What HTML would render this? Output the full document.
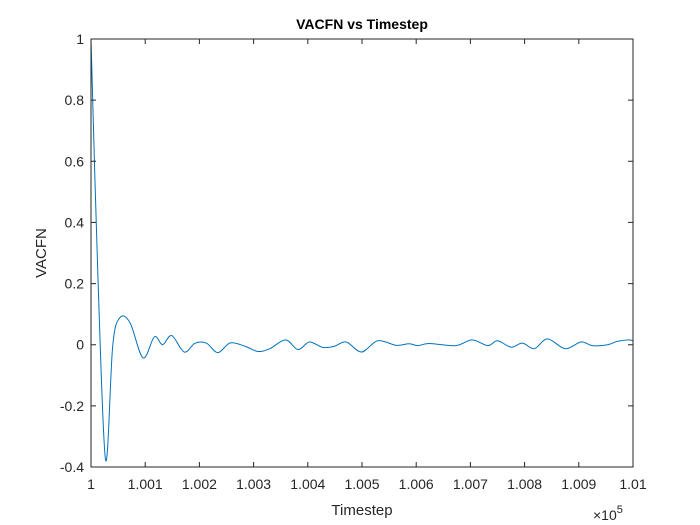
<!DOCTYPE html>
<html><head><meta charset="utf-8"><style>
html,body{margin:0;padding:0;background:#fff;}
svg{display:block;font-family:"Liberation Sans",Arial,sans-serif;}
</style></head><body>
<svg id="chart" width="700" height="525" viewBox="0 0 700 525">
<rect width="700" height="525" fill="#fff"/>
<text x="362" y="29" font-size="14" font-weight="bold" text-anchor="middle" fill="#000">VACFN vs Timestep</text>
<g id="axes"></g>
<text x="362" y="515" font-size="15" text-anchor="middle" fill="#262626">Timestep</text>
<text transform="translate(46,253) rotate(-90)" font-size="15" text-anchor="middle" fill="#262626">VACFN</text>
<text x="593" y="520" font-size="14" fill="#262626">×10<tspan dy="-7" font-size="11">5</tspan></text>
</svg>
<script>
const xTicks=[100000,100100,100200,100300,100400,100500,100600,100700,100800,100900,101000];
const xTickLabels=["1","1.001","1.002","1.003","1.004","1.005","1.006","1.007","1.008","1.009","1.01"];
const yTicks=[-0.4,-0.2,0,0.2,0.4,0.6,0.8,1];
const yTickLabels=["-0.4","-0.2","0","0.2","0.4","0.6","0.8","1"];
const timesteps=[100000,100013,100027,100040,100053,100072,100096,100117,100132,100149,100172,100192,100213,100234,100257,100284,100308,100330,100359,100382,100403,100428,100449,100471,100499,100529,100563,100587,100603,100624,100673,100703,100732,100750,100775,100796,100818,100842,100875,100904,100925,100953,100971,100993,101000];
const vacfn=[1,0.21,-0.378,-0.005,0.088,0.072,-0.043,0.026,0,0.03,-0.024,0.005,0.005,-0.026,0.006,-0.005,-0.022,-0.013,0.016,-0.016,0.009,-0.009,-0.005,0.009,-0.024,0.013,-0.002,0.003,-0.003,0.004,-0.003,0.016,-0.003,0.013,-0.008,0.005,-0.013,0.019,-0.013,0.009,-0.003,0,0.011,0.016,0.012];
const L=91,R=633,T=39,B=467,NS="http://www.w3.org/2000/svg";
const xs=v=>L+(v-100000)/1000*(R-L);
const ys=v=>B-(v+0.4)/1.4*(B-T);
const g=document.getElementById('axes');
function mk(t,a){const e=document.createElementNS(NS,t);for(const k in a)e.setAttribute(k,a[k]);return e;}
const curve=timesteps.map((t,i)=>[xs(t),ys(vacfn[i])]);
let d="M"+curve[0][0]+","+curve[0][1];
for(let i=0;i<curve.length-1;i++){const p0=curve[Math.max(0,i-1)],p1=curve[i],p2=curve[i+1],p3=curve[Math.min(curve.length-1,i+2)];
d+=" C"+(p1[0]+(p2[0]-p0[0])/6)+","+(p1[1]+(p2[1]-p0[1])/6)+" "+(p2[0]-(p3[0]-p1[0])/6)+","+(p2[1]-(p3[1]-p1[1])/6)+" "+p2[0]+","+p2[1];}
const line=mk('path',{d:d,fill:'none',stroke:'#0072BD','stroke-width':1});


g.appendChild(line);
const box=mk('rect',{x:L,y:T,width:R-L,height:B-T,fill:'none',stroke:'#262626','stroke-width':1});


g.appendChild(box);
xTicks.forEach((t,i)=>{const x=xs(t);
const tk=mk('path',{d:`M${x},${B}V${B-5}M${x},${T}V${T+5}`,stroke:'#262626'});


g.appendChild(tk);
const lb=mk('text',{x:x,y:B+22,'font-size':14,'text-anchor':'middle',fill:'#262626'});lb.textContent=xTickLabels[i];


g.appendChild(lb);});
yTicks.forEach((v,i)=>{const y=ys(v);
const tk=mk('path',{d:`M${L},${y}H${L+5}M${R},${y}H${R-5}`,stroke:'#262626'});


g.appendChild(tk);
const lb=mk('text',{x:L-7,y:y+5,'font-size':14,'text-anchor':'end',fill:'#262626'});lb.textContent=yTickLabels[i];


g.appendChild(lb);});
</script>
</body></html>
